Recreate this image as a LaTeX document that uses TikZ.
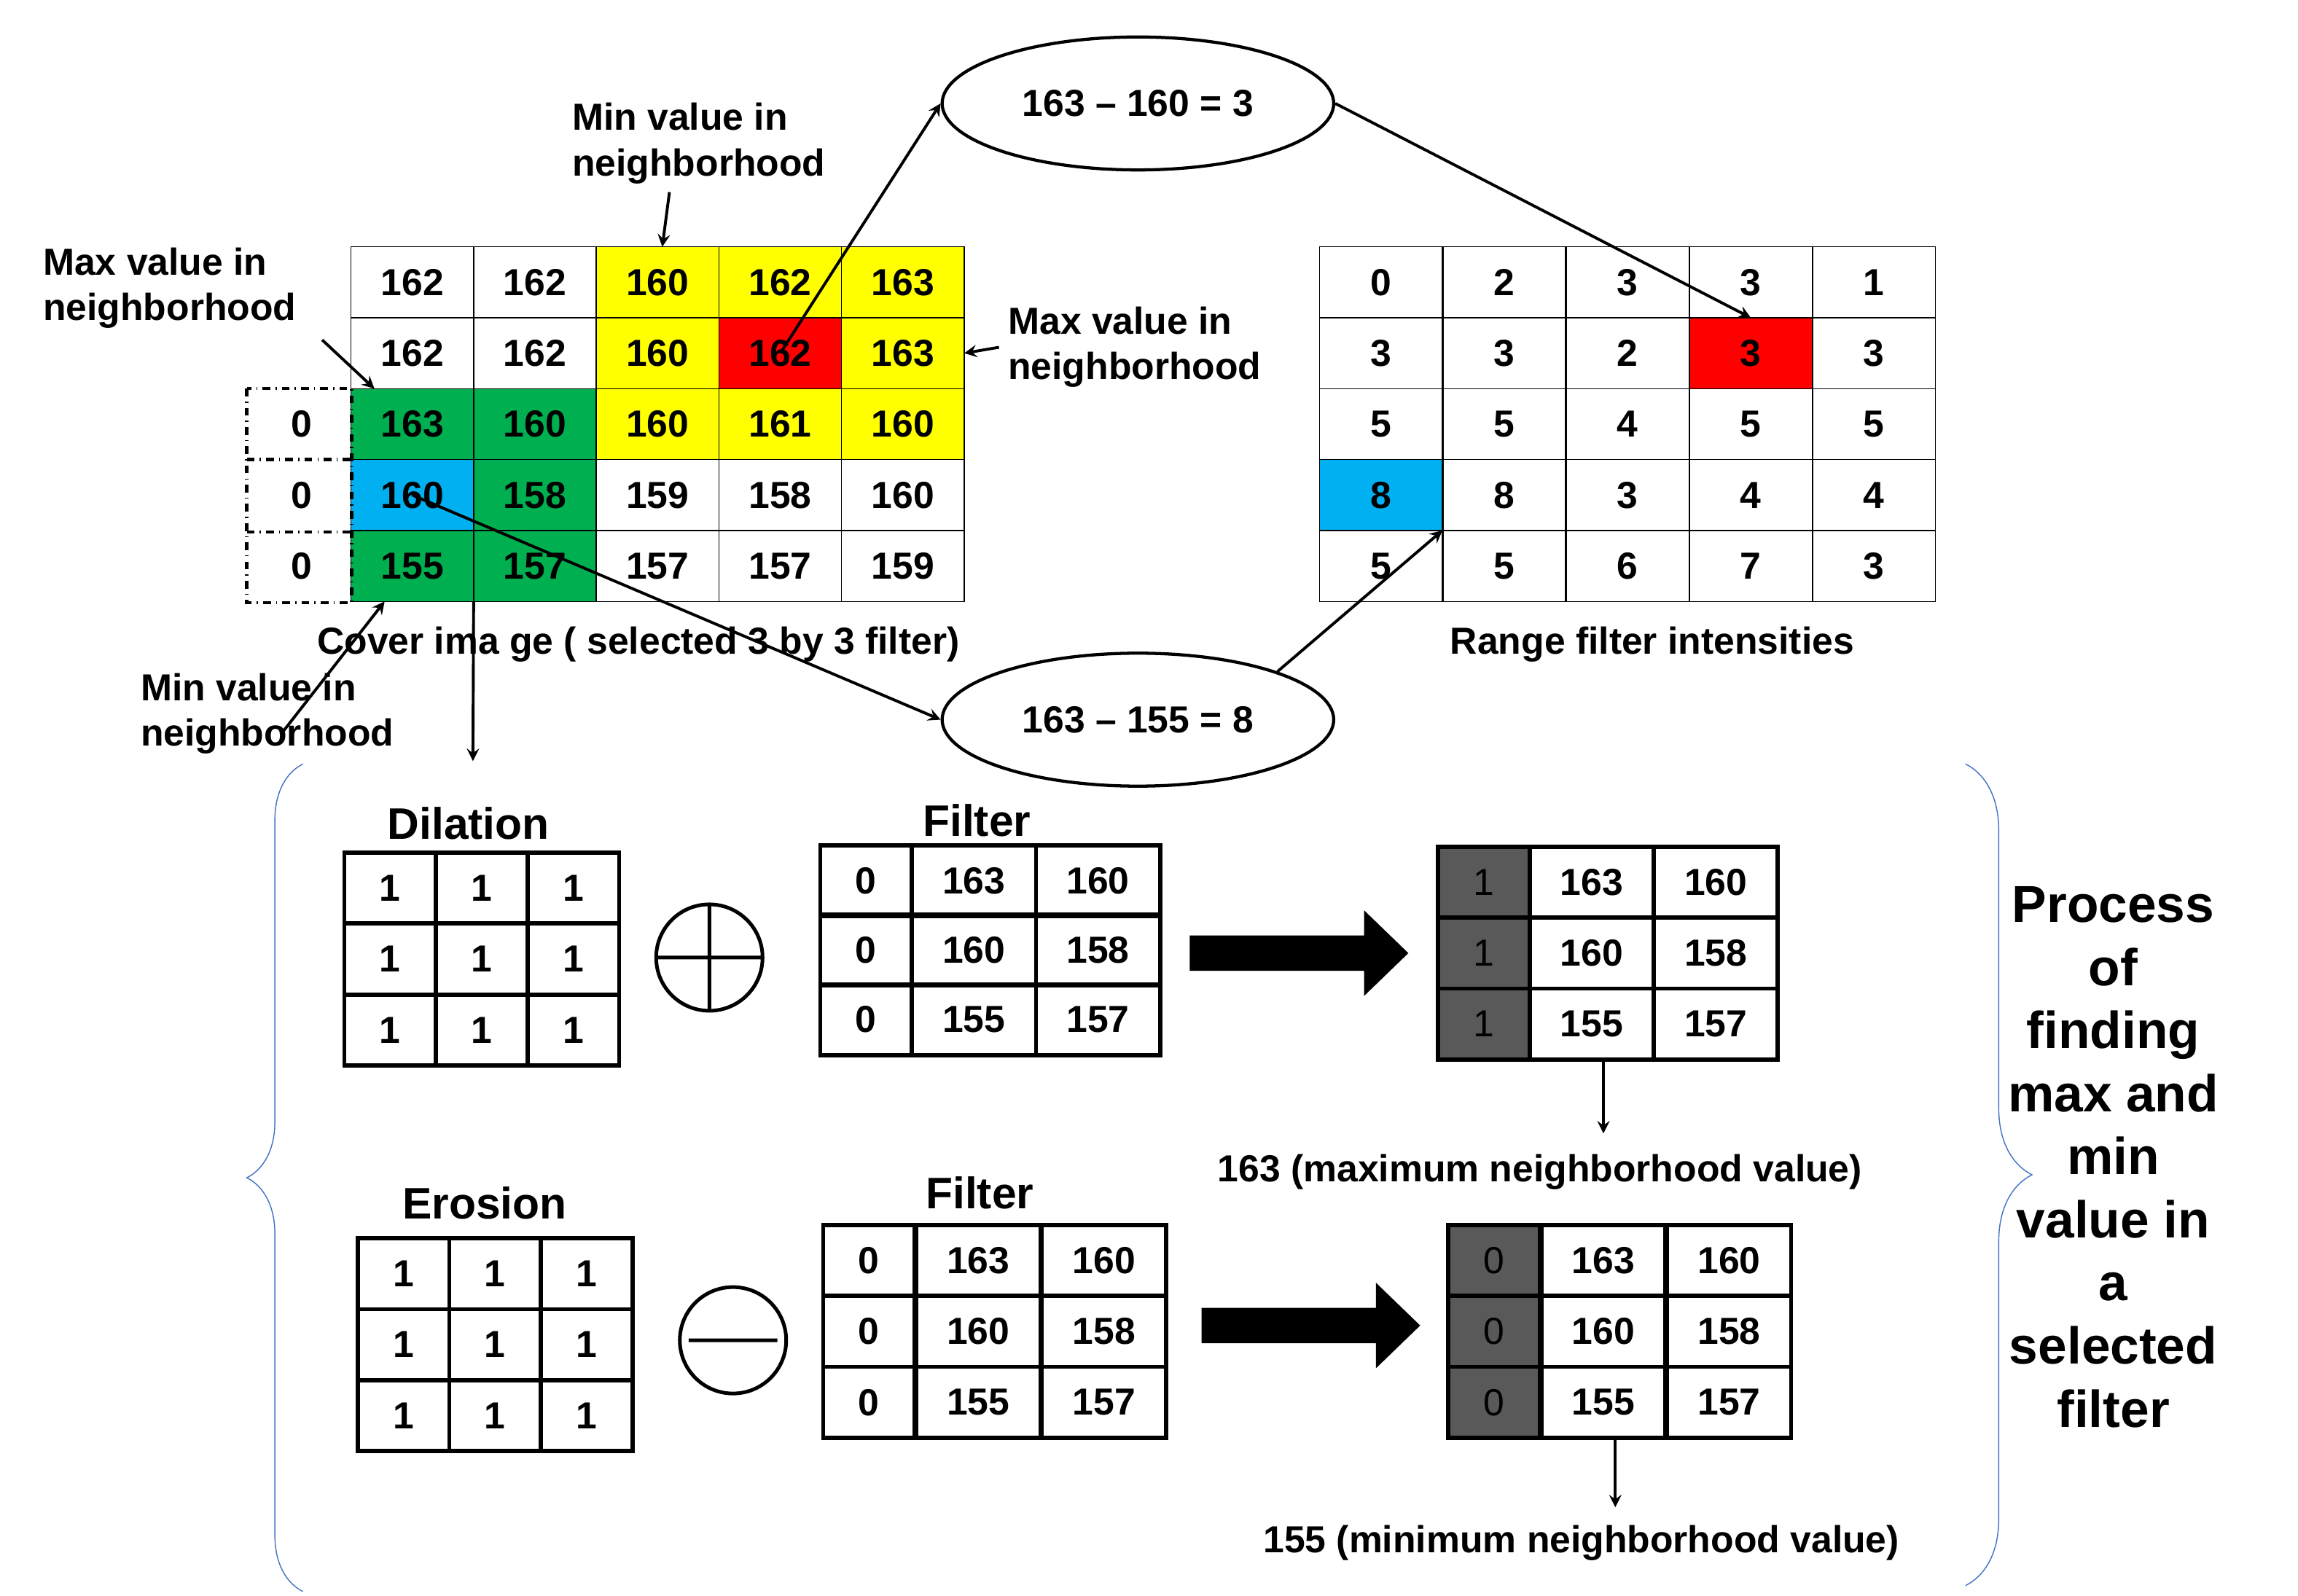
\documentclass[tikz,border=0pt]{standalone}
\usepackage{fontspec}
\setmainfont{Liberation Sans}
\usetikzlibrary{arrows,shapes.geometric,decorations.pathreplacing}
\definecolor{cyel}{RGB}{255,255,0}
\definecolor{cred}{RGB}{255,0,0}
\definecolor{cgrn}{RGB}{0,176,80}
\definecolor{cblu}{RGB}{0,176,240}
\definecolor{cdark}{RGB}{89,89,89}
\definecolor{cbrace}{RGB}{68,114,196}
\begin{document}
\begin{tikzpicture}[x=0.02cm, y=-0.02cm, >=stealth, font=\bfseries\fontsize{14.5}{17.5}\selectfont,
  cell/.style={draw, thin, minimum width=1.66cm, minimum height=0.96cm, inner sep=0, outer sep=0},
  box/.style={draw, line width=1.6pt, minimum height=0.96cm, inner sep=0, outer sep=0},
  oval/.style={ellipse, draw, line width=1.2pt, minimum width=5.3cm, minimum height=1.8cm},
  lbl/.style={align=left, anchor=west},
  con/.style={->, line width=1.1pt}]
\useasboundingbox (0,0) rectangle (1555,1080);

% cover image
\foreach \row [count=\r] in {{162/white,162/white,160/cyel,162/cyel,163/cyel},
  {162/white,162/white,160/cyel,162/cred,163/cyel},
  {163/cgrn,160/cgrn,160/cyel,161/cyel,160/cyel},
  {160/cblu,158/cgrn,159/white,158/white,160/white},
  {155/cgrn,157/cgrn,157/white,157/white,159/white}}
  \foreach \v/\f [count=\c] in \row
    \node[cell, fill=\f] (a-\r-\c) at (279+83*\c-83, 191+48*\r-48) {\v};
\foreach \r in {3,4,5}
  \node (p-\r) at (204, 191+48*\r-48) {0};
\draw[dash dot, line width=1.2pt] (167,263) rectangle (238,408);
\draw[dash dot, line width=1.2pt] (167,311) -- (238,311) (167,360) -- (238,360);

% range filter
\foreach \row [count=\r] in {{0/white,2/white,3/white,3/white,1/white},
  {3/white,3/white,2/white,3/cred,3/white},
  {5/white,5/white,4/white,5/white,5/white},
  {8/cblu,8/white,3/white,4/white,4/white},
  {5/white,5/white,6/white,7/white,3/white}}
  \foreach \v/\f [count=\c] in \row
    \node[cell, fill=\f] (b-\r-\c) at (934.5+83.4*\c-83.4, 191+48*\r-48) {\v};

\node (cover) at (432,436) {Cover ima ge ( selected 3 by 3 filter)};
\node (range) at (1118,436) {Range filter intensities};

\node[oval] (top) at (770,70) {163 -- 160 = 3};
\node[oval] (bot) at (770,487) {163 -- 155 = 8};

\node[lbl] (min1) at (381,97) {Min value in\\neighborhood};
\node[lbl] (max1) at (23,195) {Max value in\\neighborhood};
\node[lbl] (max2) at (676,235) {Max value in\\neighborhood};
\node[lbl] (min2) at (89,483) {Min value in\\neighborhood};
\coordinate (down) at (320,515);

\draw[con] (453,130) -- (a-1-3);
\draw[con] (218,230) -- (a-3-1);
\draw[con] (max2.west) -- (a-2-5.east);
\draw[con] (190,497) -- (a-5-1);
\draw[con] (a-5-1.south east) -- (down);
\draw[con] (a-2-4.center) -- (top.west);
\draw[con] (top.east) -- (b-2-4.north);
\draw[con] (a-4-1.center) -- (bot.west);
\draw[con] (bot.north east) -- (b-4-1.south east);

% dilation
\node (dil) at (317,557) {\fontsize{17}{20}\selectfont Dilation};
\foreach \r in {1,2,3} \foreach \c in {1,2,3}
  \node[box, minimum width=1.24cm] (d-\r-\c) at (264+62*\c-62, 601+48*\r-48) {1};
\draw[line width=1.4pt] (480,648) circle (36) (444,648) -- (516,648) (480,612) -- (480,684);
\node (fil1) at (661,555) {\fontsize{17}{20}\selectfont Filter};
\foreach \row [count=\r] in {{0,163,160},{0,160,158},{0,155,157}} {
  \foreach \v [count=\c] in \row {
    \ifnum\c=1 \node[box, minimum width=1.24cm] (f-\r-\c) at (586, 596+47*\r-47) {\v};
      \node[box, minimum width=1.24cm, fill=cdark] (m-\r-\c) at (1004, 597+48*\r-48) {\normalfont 1};
    \else \node[box, minimum width=1.68cm] (f-\r-\c) at (575+84*\c-84, 596+47*\r-47) {\v};
      \node[box, minimum width=1.68cm] (m-\r-\c) at (993+84*\c-84, 597+48*\r-48) {\v}; \fi
  }
}
\fill (805,633) -- (923,633) -- (923,616) -- (953,645) -- (923,674) -- (923,657) -- (805,657) -- cycle;
\draw[con] (1085,717) -- (1085,767);
\node (maxv) at (1042,793) {163 (maximum neighborhood value)};

% erosion
\node (ero) at (328,814) {\fontsize{17}{20}\selectfont Erosion};
\foreach \r in {1,2,3} \foreach \c in {1,2,3}
  \node[box, minimum width=1.24cm] (e-\r-\c) at (273+62*\c-62, 862+48*\r-48) {1};
\draw[line width=1.4pt] (496,907) circle (36) (466,907) -- (526,907);
\node (fil2) at (663,807) {\fontsize{17}{20}\selectfont Filter};
\foreach \row [count=\r] in {{0,163,160},{0,160,158},{0,155,157}} {
  \foreach \v [count=\c] in \row {
    \ifnum\c=1 \node[box, minimum width=1.24cm] (g-\r-\c) at (588, 853+48*\r-48) {\v};
      \node[box, minimum width=1.24cm, fill=cdark] (n-\r-\c) at (1011, 853+48*\r-48) {\normalfont\v};
    \else \node[box, minimum width=1.68cm] (g-\r-\c) at (577+85*\c-85, 853+48*\r-48) {\v};
      \node[box, minimum width=1.68cm] (n-\r-\c) at (1000+85*\c-85, 853+48*\r-48) {\v}; \fi
  }
}
\fill (813,885) -- (931,885) -- (931,868) -- (961,897) -- (931,926) -- (931,909) -- (813,909) -- cycle;
\draw[con] (1093,973) -- (1093,1020);
\node (minv) at (1070,1044) {155 (minimum neighborhood value)};

% braces
\draw[cbrace, decorate, decoration={brace, amplitude=0.76cm}] (205,1077) -- (205,517);
\draw[cbrace, decorate, decoration={brace, amplitude=0.9cm}] (1330,517) -- (1330,1073);
\node[align=center, font=\bfseries\fontsize{20}{24.3}\selectfont] (proc) at (1430,783)
  {Process\\of\\finding\\max and\\min\\value in\\a\\selected\\filter};
\end{tikzpicture}
\end{document}
